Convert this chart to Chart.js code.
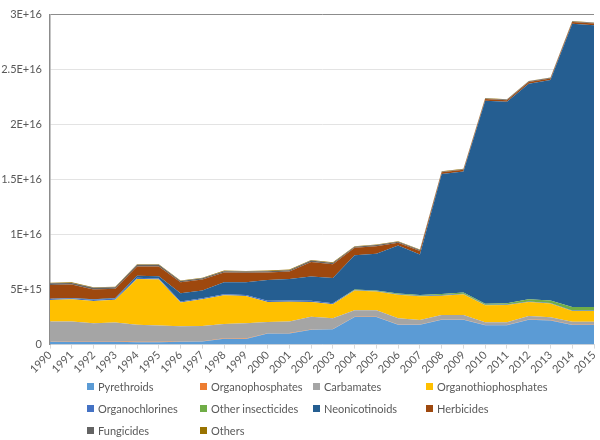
<!DOCTYPE html>
<html>
<head>
<meta charset="utf-8">
<script src="https://cdn.jsdelivr.net/npm/chart.js@4.4.1/dist/chart.umd.min.js"></script>
<style>
  html, body { margin: 0; padding: 0; background: #fff; }
  #wrap { position: relative; width: 600px; height: 440px; }
  #legend {
    position: absolute; left: 87px; top: 379px;
    display: grid; grid-template-columns: 113px 113px 113px 130px;
    row-gap: 7px;
    font-family: Lato, "Noto Sans", sans-serif; font-size: 11px; color: #595959;
  }
  #legend span.item { display: flex; align-items: center; white-space: nowrap; height: 15px; }
  #legend i { display: inline-block; flex-shrink: 0; width: 7px; height: 7px; margin-right: 4px; }
</style>
</head>
<body>
<div id="wrap">
  <canvas id="g_pesticidas" width="600" height="440"></canvas>
  <div id="legend"></div>
</div>
<script>
// values in units of 1E+15
var years = ['1990','1991','1992','1993','1994','1995','1996','1997','1998','1999','2000','2001','2002',
             '2003','2004','2005','2006','2007','2008','2009','2010','2011','2012','2013','2014','2015'];

var pyrethroids          = [0.25,0.27,0.27,0.27,0.22,0.22,0.25,0.28,0.54,0.52,1.00,1.02,1.35,1.40,2.50,2.50,1.80,1.80,2.25,2.25,1.75,1.75,2.25,2.20,1.78,1.78];
var organophosphates     = [0.03,0.03,0.03,0.03,0.03,0.03,0.03,0.03,0.03,0.03,0.03,0.03,0.03,0.03,0.03,0.03,0.03,0.03,0.03,0.03,0.03,0.03,0.03,0.03,0.03,0.03];
var carbamates           = [1.82,1.80,1.65,1.70,1.55,1.48,1.39,1.39,1.31,1.40,1.03,1.05,1.15,0.96,0.60,0.60,0.56,0.41,0.41,0.41,0.25,0.25,0.32,0.25,0.28,0.28];
var organothiophosphates = [1.96,2.02,2.02,2.09,4.17,4.18,2.15,2.42,2.60,2.47,1.82,1.80,1.35,1.28,1.79,1.70,2.15,2.15,1.76,1.88,1.55,1.57,1.28,1.25,0.96,0.96];
var organochlorines      = [0.10,0.10,0.10,0.10,0.10,0.10,0.10,0.10,0.10,0.10,0.10,0.10,0.10,0.10,0.05,0.05,0.05,0.05,0.05,0.05,0.05,0.05,0.05,0.05,0.05,0.05];
var other_insecticides   = [0.00,0.00,0.00,0.00,0.00,0.00,0.00,0.00,0.00,0.00,0.00,0.00,0.00,0.00,0.03,0.03,0.05,0.08,0.10,0.12,0.09,0.12,0.20,0.24,0.33,0.33];
var neonicotinoids       = [0.02,0.02,0.05,0.05,0.20,0.20,0.76,0.70,1.09,1.15,1.90,1.97,2.22,2.29,3.12,3.36,4.37,3.68,10.91,11.00,18.45,18.30,19.59,20.03,25.74,25.61];
var herbicides           = [1.25,1.22,0.89,0.83,0.83,0.89,0.99,0.99,0.89,0.86,0.68,0.68,1.32,1.25,0.68,0.68,0.24,0.30,0.15,0.15,0.15,0.15,0.15,0.15,0.15,0.15];
var fungicides           = [0.15,0.15,0.15,0.15,0.15,0.15,0.12,0.12,0.12,0.12,0.12,0.12,0.12,0.12,0.10,0.10,0.10,0.10,0.06,0.06,0.06,0.06,0.06,0.06,0.06,0.06];
var others               = [0.05,0.05,0.05,0.05,0.05,0.05,0.05,0.05,0.05,0.05,0.05,0.05,0.05,0.05,0.05,0.05,0.05,0.05,0.03,0.03,0.03,0.03,0.03,0.03,0.03,0.03];

var y_ticks = [0, 5, 10, 15, 20, 25, 30];

var series = [
    ['Pyrethroids',          pyrethroids,          '#5B9BD5'],
    ['Organophosphates',     organophosphates,     '#ED7D31'],
    ['Carbamates',           carbamates,           '#A5A5A5'],
    ['Organothiophosphates', organothiophosphates, '#FFC000'],
    ['Organochlorines',      organochlorines,      '#4472C4'],
    ['Other insecticides',   other_insecticides,   '#70AD47'],
    ['Neonicotinoids',       neonicotinoids,       '#255E91'],
    ['Herbicides',           herbicides,           '#9E480E'],
    ['Fungicides',           fungicides,           '#636363'],
    ['Others',               others,               '#997300']
];

function sci(v){
    if (v === 0) return '0';
    var real = v * 1e15;
    var e = Math.floor(Math.log10(real) + 1e-9);
    var m = Math.round(real / Math.pow(10, e) * 100) / 100;
    return m + 'E+' + e;
}

var datasets = [];
for (let i = 0; i < series.length; i++) {
    datasets.push({
        label: series[i][0],
        data: series[i][1],
        backgroundColor: series[i][2],
        borderColor: series[i][2],
        borderWidth: 0,
        pointRadius: 0,
        fill: i === 0 ? 'origin' : '-1'
    });
}

Chart.defaults.font.family = 'Lato, "Noto Sans", sans-serif';
Chart.defaults.font.size = 11;
Chart.defaults.color = '#595959';

var chart = new Chart(document.getElementById('g_pesticidas'), {
    type: 'line',
    data: { labels: years, datasets: datasets },
    options: {
        responsive: false,
        animation: false,
        layout: { padding: { top: 3, right: 6, bottom: 64, left: 0 } },
        elements: { line: { tension: 0 } },
        plugins: {
            legend: { display: false },
            tooltip: { enabled: false }
        },
        scales: {
            x: {
                afterFit: function(scale){ scale.paddingRight = 0; },
                grid: { drawOnChartArea: false, drawTicks: true, tickLength: 4, color: '#D9D9D9' },
                border: { color: '#D9D9D9' },
                ticks: { autoSkip: false, maxRotation: 45, minRotation: 45, padding: 0 }
            },
            y: {
                stacked: true,
                min: 0,
                max: 30,
                afterBuildTicks: function(scale){ scale.ticks = y_ticks.map(function(v){ return { value: v }; }); },
                afterFit: function(scale){ scale.width = 50; },
                grid: {
                    drawTicks: false,
                    color: function(ctx){ return ctx.tick && ctx.tick.value === 30 ? '#8C8C8C' : '#E3E3E3'; }
                },
                border: { color: '#8C8C8C', width: 1.5 },
                ticks: { padding: 8, callback: function(v){ return sci(v); } }
            }
        }
    }
});

var legend = document.getElementById('legend');
for (let i = 0; i < series.length; i++) {
    var item = document.createElement('span');
    item.className = 'item';
    item.innerHTML = '<i style="background:' + series[i][2] + '"></i>' + series[i][0];
    legend.appendChild(item);
}
</script>
</body>
</html>
